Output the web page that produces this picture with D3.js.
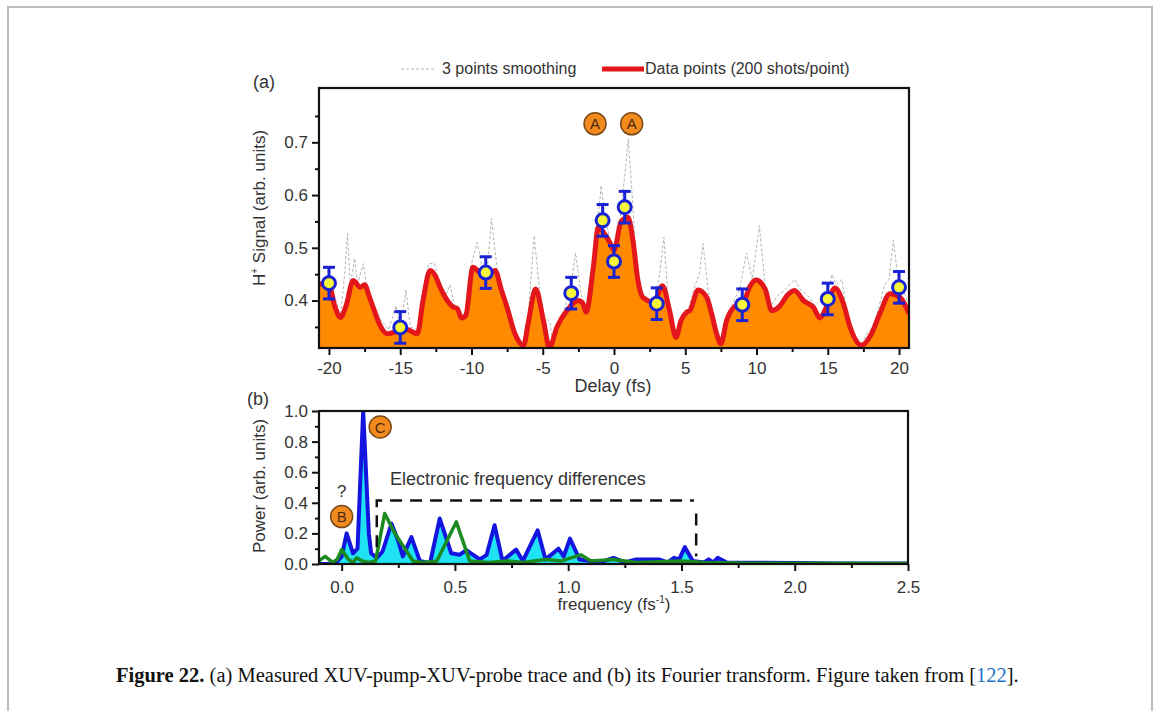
<!DOCTYPE html>
<html>
<head>
<meta charset="utf-8">
<script src="https://cdn.jsdelivr.net/npm/d3@7"></script>
<style>
  body { margin: 0; background: #fff; }
  svg text { font-family: "Liberation Sans", Arial, sans-serif; }
</style>
</head>
<body>
<svg id="fig" width="1160" height="711"></svg>
<script>
// Panel (a): delay trace
const redDelay = [-20.7, -20.0, -19.6, -19.2, -18.8, -18.3, -17.8, -17.5, -17.2, -16.9, -16.4, -15.9, -15.4, -15.0, -14.5, -14.1, -13.8, -13.4, -12.9, -12.5, -12.2, -11.7, -11.3, -11.0, -10.7, -10.4, -9.9, -9.5, -9.05, -8.35, -7.9, -7.5, -6.95, -6.35, -6.0, -5.5, -4.95, -4.53, -4.0, -3.3, -2.5, -2.2, -1.96, -1.45, -1.1, -0.75, -0.3, 0.0, 0.5, 0.98, 1.33, 1.68, 2.03, 2.8, 3.4, 3.9, 4.35, 4.7, 5.1, 5.33, 5.9, 6.5, 6.85, 7.2, 7.5, 7.9, 8.4, 9.1, 9.5, 9.96, 10.6, 11.07, 11.65, 12.1, 12.66, 13.3, 14.0, 14.45, 14.9, 15.5, 16.1, 16.56, 17.37, 18.07, 18.65, 19.37, 20.07, 20.7];
const redSignal = [0.432, 0.43, 0.39, 0.368, 0.39, 0.438, 0.425, 0.43, 0.41, 0.387, 0.352, 0.337, 0.34, 0.343, 0.345, 0.34, 0.337, 0.40, 0.457, 0.445, 0.425, 0.40, 0.388, 0.385, 0.367, 0.372, 0.463, 0.455, 0.444, 0.457, 0.42, 0.387, 0.337, 0.315, 0.36, 0.422, 0.362, 0.311, 0.35, 0.381, 0.40, 0.395, 0.378, 0.463, 0.539, 0.53, 0.51, 0.495, 0.55, 0.558, 0.514, 0.438, 0.406, 0.397, 0.428, 0.381, 0.33, 0.362, 0.378, 0.381, 0.42, 0.406, 0.375, 0.337, 0.318, 0.362, 0.387, 0.397, 0.425, 0.439, 0.422, 0.381, 0.39, 0.408, 0.419, 0.40, 0.387, 0.367, 0.387, 0.424, 0.394, 0.35, 0.315, 0.337, 0.375, 0.413, 0.406, 0.375];

const smoothDelay = [-20.5, -20, -19.5, -19.2, -18.9, -18.7, -18.5, -18.2, -18, -17.6, -17.3, -16.8, -16.3, -15.8, -15.3, -15, -14.6, -14.3, -13.8, -13.4, -13.0, -12.6, -12.2, -11.8, -11.5, -11.2, -10.8, -10.4, -10, -9.6, -9.3, -8.9, -8.6, -8.2, -7.8, -7.4, -7, -6.4, -6, -5.6, -5.3, -5, -4.5, -4.3, -3.9, -3.4, -3.0, -2.7, -2.3, -2.0, -1.5, -1.1, -0.9, -0.6, -0.3, 0.1, 0.5, 0.8, 1.0, 1.3, 1.6, 2.0, 2.5, 2.9, 3.2, 3.5, 3.8, 4.3, 4.8, 5.3, 5.7, 6.0, 6.25, 6.6, 6.9, 7.3, 7.6, 8.0, 8.4, 8.8, 9.3, 9.7, 10.2, 10.6, 11.0, 11.5, 12.0, 12.3, 12.7, 13.1, 13.6, 14.1, 14.5, 14.9, 15.3, 15.6, 16.0, 16.4, 17.0, 17.4, 17.8, 18.2, 18.6, 19.0, 19.3, 19.6, 19.9, 20.3, 20.7];
const smoothSignal = [0.43, 0.44, 0.40, 0.37, 0.45, 0.527, 0.43, 0.48, 0.43, 0.47, 0.42, 0.39, 0.36, 0.345, 0.39, 0.35, 0.42, 0.35, 0.345, 0.42, 0.47, 0.47, 0.43, 0.41, 0.43, 0.39, 0.37, 0.38, 0.47, 0.51, 0.47, 0.455, 0.556, 0.46, 0.42, 0.38, 0.34, 0.32, 0.38, 0.523, 0.44, 0.37, 0.36, 0.32, 0.36, 0.39, 0.43, 0.49, 0.41, 0.38, 0.47, 0.56, 0.618, 0.55, 0.52, 0.50, 0.57, 0.65, 0.707, 0.59, 0.45, 0.41, 0.40, 0.41, 0.45, 0.52, 0.40, 0.33, 0.37, 0.39, 0.43, 0.45, 0.508, 0.42, 0.38, 0.34, 0.32, 0.37, 0.40, 0.42, 0.49, 0.44, 0.542, 0.43, 0.39, 0.41, 0.42, 0.43, 0.44, 0.42, 0.41, 0.39, 0.37, 0.40, 0.45, 0.43, 0.44, 0.36, 0.33, 0.32, 0.34, 0.35, 0.39, 0.43, 0.44, 0.514, 0.45, 0.42, 0.39];

const pointDelay = [-20, -15, -9, -3, -0.8, 0, 0.75, 3, 9, 15, 20];
const pointSignal = [0.433, 0.349, 0.453, 0.414, 0.552, 0.474, 0.577, 0.394, 0.392, 0.403, 0.425];
const pointError = [0.03, 0.03, 0.03, 0.03, 0.03, 0.03, 0.03, 0.03, 0.03, 0.03, 0.03];

// Panel (b): Fourier transform
const blueFreq = [-0.1, -0.03, 0.0, 0.022, 0.05, 0.07, 0.095, 0.12, 0.13, 0.155, 0.18, 0.22, 0.25, 0.27, 0.308, 0.345, 0.39, 0.433, 0.484, 0.52, 0.55, 0.61, 0.64, 0.675, 0.71, 0.77, 0.8, 0.865, 0.9, 0.957, 0.98, 1.008, 1.05, 1.1, 1.15, 1.2, 1.25, 1.3, 1.4, 1.44, 1.467, 1.49, 1.515, 1.55, 1.6, 1.62, 1.64, 1.66, 1.7, 1.8, 2.0, 2.2, 2.5];
const bluePower = [0.0, 0.0, 0.05, 0.2, 0.07, 0.1, 1.0, 0.2, 0.07, 0.04, 0.08, 0.264, 0.15, 0.05, 0.176, 0.02, 0.005, 0.297, 0.07, 0.06, 0.09, 0.03, 0.06, 0.253, 0.02, 0.094, 0.02, 0.22, 0.03, 0.1, 0.05, 0.166, 0.03, 0.02, 0.015, 0.04, 0.01, 0.03, 0.03, 0.01, 0.04, 0.03, 0.11, 0.02, 0.01, 0.03, 0.01, 0.04, 0.01, 0.008, 0.006, 0.004, 0.003];
const greenFreq = [-0.1, -0.073, -0.04, -0.02, 0.0, 0.03, 0.05, 0.066, 0.09, 0.12, 0.15, 0.19, 0.235, 0.315, 0.36, 0.42, 0.506, 0.565, 0.65, 0.73, 0.8, 0.9, 0.97, 1.056, 1.1, 1.2, 1.3, 1.5, 1.6, 1.8, 2.5];
const greenPower = [0.02, 0.05, 0.01, 0.03, 0.094, 0.03, 0.01, 0.04, 0.02, 0.01, 0.02, 0.33, 0.2, 0.02, 0.01, 0.02, 0.275, 0.02, 0.01, 0.02, 0.01, 0.03, 0.02, 0.06, 0.02, 0.03, 0.01, 0.02, 0.01, 0.005, 0.003];

const delayTicks = [-20, -15, -10, -5, 0, 5, 10, 15, 20];
const signalTicks = [0.4, 0.5, 0.6, 0.7];
const freqTicks = [0.0, 0.5, 1.0, 1.5, 2.0, 2.5];
const powerTicks = [0.0, 0.2, 0.4, 0.6, 0.8, 1.0];

const svg = d3.select('#fig');

// page frame
svg.append('rect')
  .attr('x', 8).attr('y', 7).attr('width', 1144).attr('height', 730)
  .attr('fill', 'none').attr('stroke', '#bdbdbd').attr('stroke-width', 2);

const boxA = { left: 319, top: 88, right: 909, bottom: 348 };
const boxB = { left: 319, top: 411, right: 908, bottom: 564 };

const x1 = d3.scaleLinear().domain([-20.7, 20.7]).range([boxA.left, boxA.right]);
const y1 = d3.scaleLinear().domain([0.31, 0.803]).range([boxA.bottom, boxA.top]);
const x2 = d3.scaleLinear().domain([-0.1, 2.5]).range([boxB.left, boxB.right]);
const y2 = d3.scaleLinear().domain([0, 1.0]).range([boxB.bottom, boxB.top]);

const defs = svg.append('defs');
defs.append('clipPath').attr('id', 'clipA').append('rect')
  .attr('x', boxA.left).attr('y', boxA.top)
  .attr('width', boxA.right - boxA.left).attr('height', boxA.bottom - boxA.top);
defs.append('clipPath').attr('id', 'clipB').append('rect')
  .attr('x', boxB.left).attr('y', boxB.top)
  .attr('width', boxB.right - boxB.left).attr('height', boxB.bottom - boxB.top);

function drawAxes(box, xs, ys, xMajor, xMinor, yMajor, yMinor, fmtX, fmtY, padX) {
  const g = svg.append('g');
  const minorX = g.append('g').attr('transform', `translate(0,${box.bottom})`)
    .call(d3.axisBottom(xs).tickValues(xMinor).tickSize(4).tickFormat(''));
  const majorX = g.append('g').attr('transform', `translate(0,${box.bottom})`)
    .call(d3.axisBottom(xs).tickValues(xMajor).tickSize(7).tickPadding(padX).tickFormat(fmtX));
  const minorY = g.append('g').attr('transform', `translate(${box.left},0)`)
    .call(d3.axisLeft(ys).tickValues(yMinor).tickSize(4).tickFormat(''));
  const majorY = g.append('g').attr('transform', `translate(${box.left},0)`)
    .call(d3.axisLeft(ys).tickValues(yMajor).tickSize(7).tickPadding(4).tickFormat(fmtY));
  [minorX, majorX, minorY, majorY].forEach((a) => {
    a.select('.domain').remove();
    a.selectAll('line').attr('stroke', '#111').attr('stroke-width', 2);
    a.selectAll('text').attr('font-size', 17).attr('fill', '#333')
      .style('font-family', '"Liberation Sans", Arial, sans-serif');
  });
  g.append('rect')
    .attr('x', box.left).attr('y', box.top)
    .attr('width', box.right - box.left).attr('height', box.bottom - box.top)
    .attr('fill', 'none').attr('stroke', '#111').attr('stroke-width', 2.2);
}

// ---------- panel (a) ----------
const redData = redDelay.map((d, i) => [d, redSignal[i]]);
const smoothData = smoothDelay.map((d, i) => [d, smoothSignal[i]]);

const plotA = svg.append('g').attr('clip-path', 'url(#clipA)');

plotA.append('path')
  .datum(smoothData)
  .attr('fill', 'none')
  .attr('stroke', '#b4b4b4')
  .attr('stroke-width', 1)
  .attr('stroke-dasharray', '3,2')
  .attr('d', d3.line().x((d) => x1(d[0])).y((d) => y1(d[1])));

plotA.append('path')
  .datum(redData)
  .attr('fill', '#ff8a00')
  .attr('d', d3.area().curve(d3.curveMonotoneX)
    .x((d) => x1(d[0])).y0(boxA.bottom).y1((d) => y1(d[1])));

plotA.append('path')
  .datum(redData)
  .attr('fill', 'none')
  .attr('stroke', '#e3161c')
  .attr('stroke-width', 5)
  .attr('stroke-linejoin', 'round')
  .attr('d', d3.line().curve(d3.curveMonotoneX).x((d) => x1(d[0])).y((d) => y1(d[1])));

// error bars + markers
const pts = pointDelay.map((d, i) => ({ x: d, y: pointSignal[i], e: pointError[i] }));
const eb = svg.append('g').attr('stroke', '#1a22d6').attr('stroke-width', 3);
pts.forEach((p) => {
  const cx = x1(p.x);
  eb.append('line').attr('x1', cx).attr('x2', cx).attr('y1', y1(p.y + p.e)).attr('y2', y1(p.y - p.e));
  eb.append('line').attr('x1', cx - 6).attr('x2', cx + 6).attr('y1', y1(p.y + p.e)).attr('y2', y1(p.y + p.e));
  eb.append('line').attr('x1', cx - 6).attr('x2', cx + 6).attr('y1', y1(p.y - p.e)).attr('y2', y1(p.y - p.e));
});
svg.append('g').selectAll('circle').data(pts).enter().append('circle')
  .attr('cx', (d) => x1(d.x)).attr('cy', (d) => y1(d.y)).attr('r', 6.5)
  .attr('fill', '#f5f53a').attr('stroke', '#1a22d6').attr('stroke-width', 3);

drawAxes(boxA, x1, y1,
  delayTicks, d3.range(-17.5, 20, 5),
  signalTicks, [0.35, 0.45, 0.55, 0.65, 0.75],
  d3.format('d'), d3.format('.1f'), 7);
svg.selectAll('text').filter(function () { return this.textContent.startsWith('−'); })
  .text(function () { return this.textContent.replace('−', '-'); });

// badges
function badge(cx, cy, letter) {
  svg.append('circle').attr('cx', cx).attr('cy', cy).attr('r', 11)
    .attr('fill', '#f28a1e').attr('stroke', '#7a4a1a').attr('stroke-width', 1.5);
  svg.append('text').attr('x', cx).attr('y', cy + 5.5).attr('text-anchor', 'middle')
    .attr('font-size', 15).attr('fill', '#4a2a10').text(letter);
}
badge(x1(-1.33), y1(0.735), 'A');
badge(x1(1.24), y1(0.735), 'A');

// labels panel (a)
svg.append('text').attr('x', 253).attr('y', 88).attr('font-size', 18).attr('fill', '#333').text('(a)');
svg.append('text').attr('x', 613).attr('y', 392)
  .attr('text-anchor', 'middle').attr('font-size', 18).attr('fill', '#333').text('Delay (fs)');
const ylabA = svg.append('text')
  .attr('transform', 'translate(265,208) rotate(-90)')
  .attr('text-anchor', 'middle').attr('font-size', 17).attr('fill', '#333');
ylabA.append('tspan').text('H');
ylabA.append('tspan').attr('dy', -7).attr('font-size', 10).text('+');
ylabA.append('tspan').attr('dy', 7).text(' Signal  (arb. units)');

// legend
svg.append('line').attr('x1', 401).attr('x2', 436).attr('y1', 69).attr('y2', 69)
  .attr('stroke', '#b4b4b4').attr('stroke-width', 1).attr('stroke-dasharray', '3,2');
svg.append('text').attr('x', 442).attr('y', 74).attr('font-size', 16).attr('fill', '#333').text('3 points smoothing');
svg.append('line').attr('x1', 602).attr('x2', 644).attr('y1', 69).attr('y2', 69)
  .attr('stroke', '#e3161c').attr('stroke-width', 5);
svg.append('text').attr('x', 645).attr('y', 74).attr('font-size', 16).attr('fill', '#333').text('Data points (200 shots/point)');

// ---------- panel (b) ----------
const blueData = blueFreq.map((d, i) => [d, bluePower[i]]);
const greenData = greenFreq.map((d, i) => [d, greenPower[i]]);
const plotB = svg.append('g').attr('clip-path', 'url(#clipB)');

plotB.append('path').datum(blueData)
  .attr('fill', '#1fe3f2')
  .attr('d', d3.area().x((d) => x2(d[0])).y0(boxB.bottom).y1((d) => y2(d[1])));
plotB.append('path').datum(blueData)
  .attr('fill', 'none').attr('stroke', '#1515e0').attr('stroke-width', 4).attr('stroke-linejoin', 'round')
  .attr('d', d3.line().x((d) => x2(d[0])).y((d) => y2(d[1])));
plotB.append('path').datum(greenData)
  .attr('fill', 'none').attr('stroke', '#1b8a1f').attr('stroke-width', 3.5).attr('stroke-linejoin', 'round')
  .attr('d', d3.line().x((d) => x2(d[0])).y((d) => y2(d[1])));

drawAxes(boxB, x2, y2,
  freqTicks, [0.25, 0.75, 1.25, 1.75, 2.25],
  powerTicks, [0.1, 0.3, 0.5, 0.7, 0.9],
  d3.format('.1f'), d3.format('.1f'), 10);

// dashed bracket
svg.append('path')
  .attr('d', d3.line()([[x2(0.155), y2(0.11)], [x2(0.155), y2(0.415)], [x2(1.555), y2(0.415)]]))
  .attr('fill', 'none').attr('stroke', '#111').attr('stroke-width', 2.5).attr('stroke-dasharray', '12,8');
svg.append('path')
  .attr('d', d3.line()([[x2(1.565), y2(0.33)], [x2(1.565), y2(0.05)]]))
  .attr('fill', 'none').attr('stroke', '#111').attr('stroke-width', 2.5).attr('stroke-dasharray', '12,8');

svg.append('text').attr('x', 390).attr('y', 485).attr('font-size', 18).attr('fill', '#333')
  .text('Electronic frequency differences');
svg.append('text').attr('x', x2(0.0)).attr('y', 497).attr('text-anchor', 'middle')
  .attr('font-size', 17).attr('fill', '#333').text('?');
badge(x2(0.0), y2(0.31), 'B');
badge(x2(0.17), y2(0.895), 'C');

svg.append('text').attr('x', 247).attr('y', 405).attr('font-size', 18).attr('fill', '#333').text('(b)');
const xlabB = svg.append('text').attr('x', 614).attr('y', 610)
  .attr('text-anchor', 'middle').attr('font-size', 17).attr('fill', '#333');
xlabB.append('tspan').text('frequency (fs');
xlabB.append('tspan').attr('dy', -7).attr('font-size', 10).text('-1');
xlabB.append('tspan').attr('dy', 7).text(')');
svg.append('text')
  .attr('transform', 'translate(265,486) rotate(-90)')
  .attr('text-anchor', 'middle').attr('font-size', 17).attr('fill', '#333').text('Power (arb. units)');

// caption
const cap = svg.append('text').attr('x', 116).attr('y', 682)
  .style('font-family', '"Liberation Serif", "Times New Roman", serif')
  .attr('font-size', 20.5).attr('fill', '#111');
cap.append('tspan').attr('font-weight', 'bold').text('Figure 22.');
cap.append('tspan').text(' (a) Measured XUV-pump-XUV-probe trace and (b) its Fourier transform. Figure taken from [');
cap.append('tspan').attr('fill', '#1a73c8').text('122');
cap.append('tspan').text('].');
</script>
</body>
</html>
